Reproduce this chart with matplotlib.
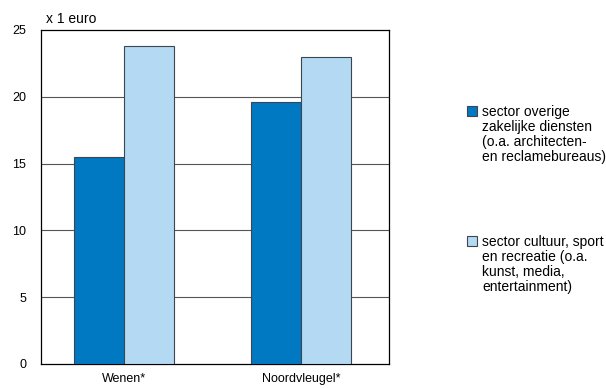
import numpy as np
import matplotlib.pyplot as plt
from matplotlib.patches import Rectangle

plt.rcParams["font.family"] = ["Liberation Sans", "DejaVu Sans"]

# ── data ──────────────────────────────────────────────────────────────────────
categories = ["Wenen*", "Noordvleugel*"]
zakelijk = [15.5, 19.6]
cultuur = [23.8, 23.0]
series_labels = [
    "sector overige\nzakelijke diensten\n(o.a. architecten-\nen reclamebureaus)",
    "sector cultuur, sport\nen recreatie (o.a.\nkunst, media,\nentertainment)",
]
yticks = [0, 5, 10, 15, 20, 25]

DARK = "#0079c2"
LIGHT = "#b3d9f3"
EDGE = "#3c4650"
W, H = 606, 388

fig = plt.figure(figsize=(W / 100, H / 100), dpi=100)
ax = fig.add_axes([41 / W, 1 - 364 / H, 348 / W, 334 / H])

x = np.arange(len(categories))
w = 0.285
ax.bar(x - w / 2, zakelijk, w, color=DARK, edgecolor=EDGE, linewidth=0.8, zorder=3)
ax.bar(x + w / 2, cultuur, w, color=LIGHT, edgecolor=EDGE, linewidth=0.8, zorder=3)

ax.set_xlim(-0.469, 1.497)
ax.set_ylim(0, 25)
ax.set_yticks(yticks)
ax.set_xticks(x)
ax.set_xticklabels(categories)
ax.tick_params(axis="both", length=0, labelsize=9, colors="black")
ax.tick_params(axis="y", pad=10.5)
ax.tick_params(axis="x", pad=6.5)
for yv in yticks[1:-1]:
    ax.axhline(yv, color="#555555", linewidth=0.8, zorder=1)
for s in ax.spines.values():
    s.set_color("black")
    s.set_linewidth(0.9)

fig.text(46 / W, 1 - 23 / H, "x 1 euro", fontsize=10, va="baseline", ha="left")

# legend drawn by hand: square next to first line of each label
line_h = 15
for colour, label, base_y in zip([DARK, LIGHT], series_labels, [116, 246]):
    fig.patches.append(Rectangle((467 / W, 1 - base_y / H), 10 / W, 10 / H,
                                 transform=fig.transFigure, facecolor=colour,
                                 edgecolor=EDGE, linewidth=0.8))
    n_lines = label.count("\n")
    fig.text(482 / W, 1 - (base_y + n_lines * line_h) / H, label, fontsize=10,
             va="baseline", ha="left", linespacing=1.08)

fig.savefig("out.png", dpi=100)
